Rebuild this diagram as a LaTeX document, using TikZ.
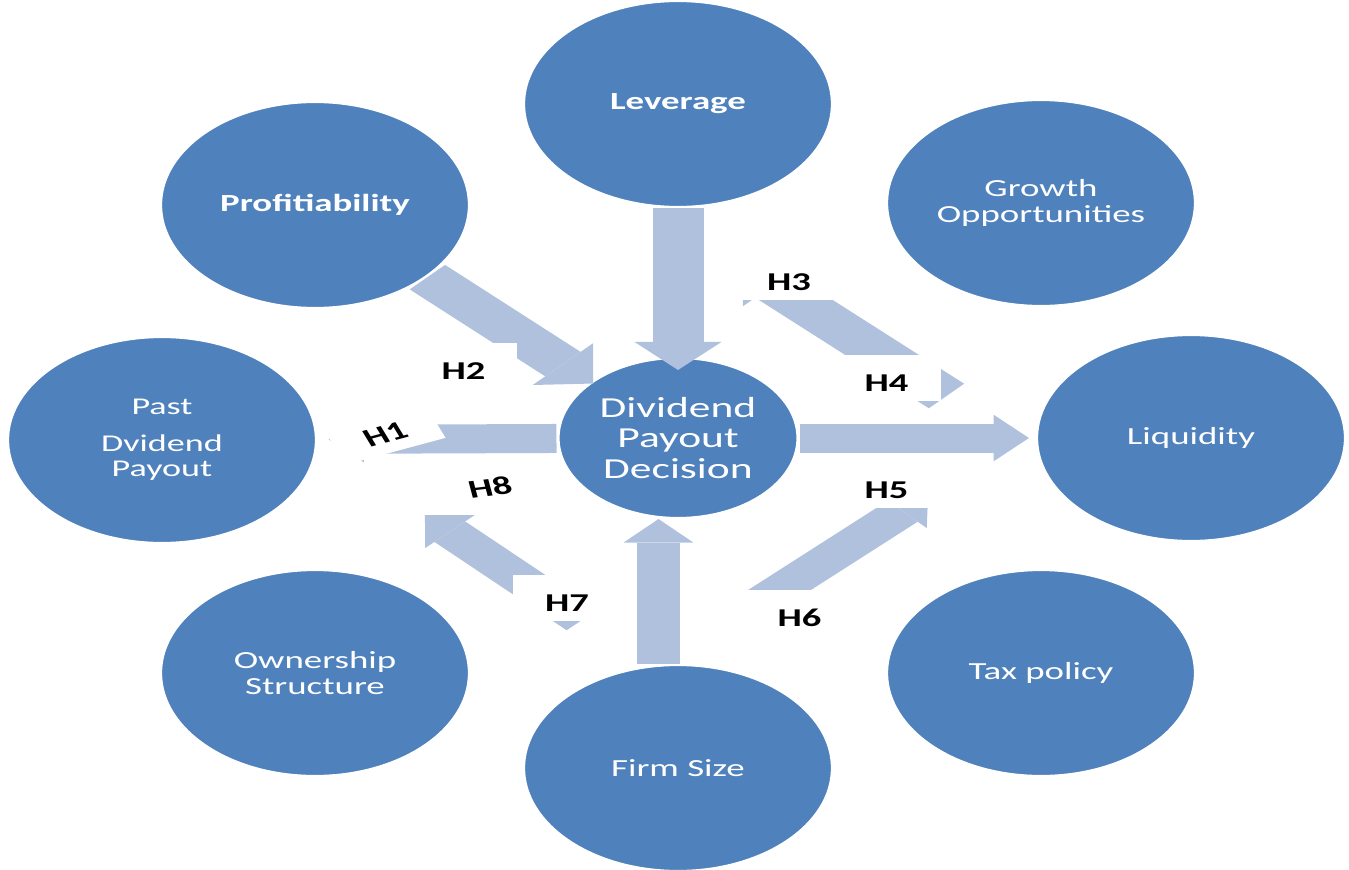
\documentclass[tikz,border=0pt]{standalone}
\usepackage{fontspec}
\setmainfont{Carlito}
\usetikzlibrary{arrows.meta}
\definecolor{factorblue}{RGB}{79,129,189}
\definecolor{linkblue}{RGB}{176,193,222}
\tikzset{
  factor/.style={circle,fill=factorblue,draw=white,line width=1.2pt,
    minimum size=4.12cm,inner sep=0pt,text=white,align=center,
    font=\fontsize{14}{15}\selectfont},
  link/.style={draw=linkblue,line width=0.58cm,
    -{Triangle[length=0.47cm,width=0.93cm,line width=0pt]}},
  biglink/.style={draw=linkblue,line width=0.68cm,
    -{Triangle[length=0.56cm,width=1.16cm,line width=0pt]}},
  hlabel/.style={fill=white,minimum width=1.44cm,minimum height=0.92cm,
    text height=0.52cm,text depth=0pt,inner sep=0.2cm,
    font=\bfseries\fontsize{14.6}{15}\selectfont}
}
\begin{document}
\begin{tikzpicture}[x=0.02cm,y=-0.02cm]
  \useasboundingbox (0,0) rectangle (1349,869);
  \begin{scope}[transform canvas={xscale=1.5}]
    \node[factor,font=\bfseries\fontsize{14}{15}\selectfont] (lev) at (452,104) {Leverage};
    \node[factor,font=\bfseries\fontsize{14}{15}\selectfont] (prof) at (210,205) {Profitiability};
    \node[factor] (grow) at (694,203) {Growth\\Opportunities};
    \node[factor,font=\fontsize{13.7}{14.2}\selectfont] (past) at (108,440) {Past\\[6.8pt]Dvidend\\Payout};
    \node[factor,minimum size=3.2cm,font=\fontsize{16.5}{17.3}\selectfont] (dpd) at (452,438) {Dividend\\Payout\\Decision};
    \node[factor] (liq) at (794,438) {Liquidity};
    \node[factor] (own) at (210,673) {Ownership\\Structure};
    \node[factor] (tax) at (694,673) {Tax policy};
    \node[factor] (size) at (452,768) {Firm Size};
    \coordinate (t3) at (631,396);
    \coordinate (e3) at (495,266);
    \coordinate (t5) at (508.6,600.6);
    \coordinate (e5) at (618.7,495);
    \coordinate (t7) at (388,620);
    \coordinate (e7) at (283.3,515);
    \begin{scope}[-]
      \draw[biglink,shorten >=-0.26cm] (lev) to (dpd);
      \draw[biglink,shorten >=-0.05cm] (prof) to (dpd);
      \draw[link,shorten >=0.14cm] (dpd) to (past);
      \draw[link,shorten >=0.08cm] (dpd) to (liq);
      \draw[link] ([xshift=-0.26cm]size.north) to ([xshift=-0.26cm]dpd.south);
      \draw[biglink] (t3) to (e3);
      \draw[link] (t5) to (e5);
      \draw[link] (t7) to (e7);
    \end{scope}
    \node[hlabel,rotate=22] (h1) at (255,430) {H1};
    \node[hlabel] (h2) at (309,366) {H2};
    \node[hlabel] (h3) at (526,277) {H3};
    \node[hlabel] (h4) at (591,378) {H4};
    \node[hlabel] (h5) at (591,485) {H5};
    \node[hlabel] (h6) at (533,613) {H6};
    \node[hlabel] (h7) at (378,598) {H7};
    \node[hlabel,rotate=10] (h8) at (326,483) {H8};
  \end{scope}
\end{tikzpicture}
\end{document}
